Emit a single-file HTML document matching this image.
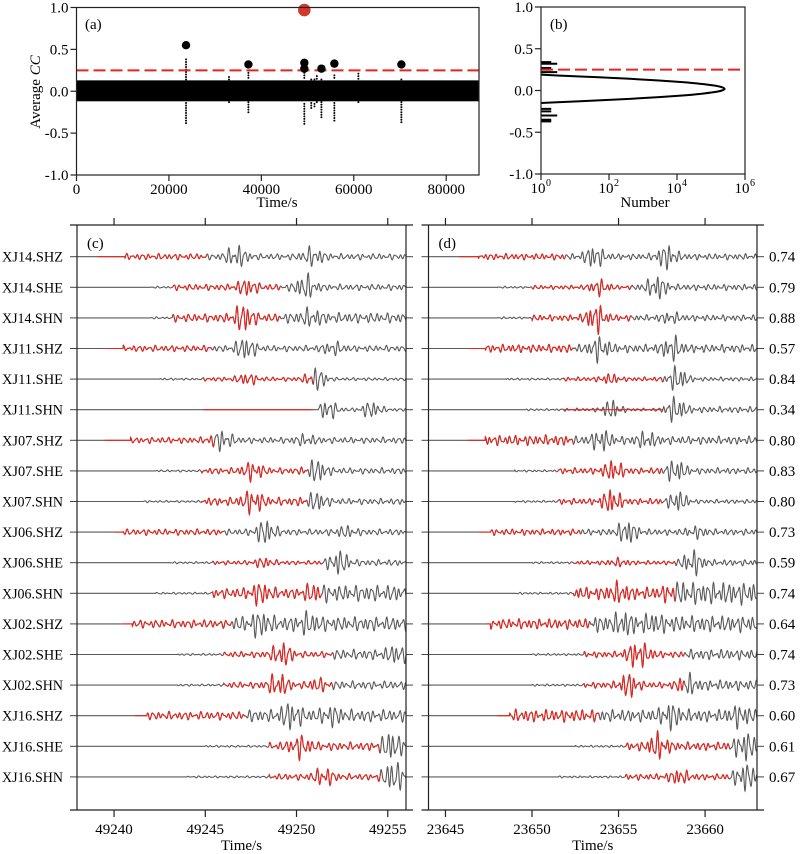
<!DOCTYPE html>
<html><head><meta charset="utf-8"><style>
html,body{margin:0;padding:0;background:#fff}
svg{display:block;font-family:"Liberation Serif","Times New Roman",Times,serif}
text{font-family:"Liberation Serif","Times New Roman",Times,serif}
</style></head><body>
<svg id="fig" width="800" height="854" viewBox="0 0 800 854" xmlns="http://www.w3.org/2000/svg">
<g id="pa"></g>
<g id="pb"></g>
<g id="pc"></g>
<g id="pd"></g>
</svg>
<script>
// ---------- Panel (a) data ----------
const aTicksX = [0, 20000, 40000, 60000, 80000];
const aTicksY = [1.0, 0.5, 0.0, -0.5, -1.0];
const aTickLabelsY = ["1.0", "0.5", "0.0", "-0.5", "-1.0"];
const detTimes = [23700, 37200, 49300, 49300, 53000, 55800, 70300];
const detCC = [0.55, 0.32, 0.34, 0.27, 0.27, 0.33, 0.32];
const bestTime = [49300];
const bestCC = [0.97];
const threshold = 0.25;
const bandUpper = 0.13;
const bandLower = -0.12;
const spikeTimes = [23700, 37200, 49300, 50800, 51500, 52000, 53000, 55800, 70300, 33000, 61000];
const spikeMax = [0.38, 0.25, 0.25, 0.14, 0.14, 0.18, 0.14, 0.19, 0.14, 0.17, 0.21];
const spikeMin = [-0.38, -0.25, -0.39, -0.2, -0.18, -0.13, -0.31, -0.35, -0.37, -0.13, -0.13];
// ---------- Panel (b) data ----------
const histCC = [-0.14,-0.12,-0.10,-0.08,-0.06,-0.04,-0.02,0.00,0.02,0.04,0.06,0.08,0.10,0.12,0.14,0.16,0.18];
const histCount = [3,41,407,2950,14500,50000,123000,209000,251000,209000,123000,50000,14500,2950,407,41,3];
const outlierCC = [0.34,0.32,0.27,0.25,0.22,-0.22,-0.25,-0.30,-0.35,-0.37];
const outlierCount = [2,3,2,2,3,2,2,3,2,2];
// ---------- Panel (c) data ----------
const stations = ["XJ14.SHZ","XJ14.SHE","XJ14.SHN","XJ11.SHZ","XJ11.SHE","XJ11.SHN","XJ07.SHZ","XJ07.SHE","XJ07.SHN","XJ06.SHZ","XJ06.SHE","XJ06.SHN","XJ02.SHZ","XJ02.SHE","XJ02.SHN","XJ16.SHZ","XJ16.SHE","XJ16.SHN"];
const cTicks = [49240, 49245, 49250, 49255];
const cOnset = [49240.6,49242.0,49242.0,49240.5,49242.5,49251.2,49240.9,49242.3,49241.6,49240.5,49243.0,49242.3,49241.0,49243.5,49243.5,49241.8,49245.0,49244.0];
const cRedStart = [49239.1,49243.2,49243.2,49239.5,49244.9,49244.9,49239.5,49244.8,49244.8,49240.05,49245.4,49245.4,49240.5,49246.0,49246.0,49241.15,49248.5,49248.5];
const cRedEnd = [49245.1,49249.1,49249.1,49245.4,49250.9,49250.9,49245.5,49250.6,49250.6,49246.0,49251.4,49251.4,49246.5,49252.0,49252.0,49247.2,49254.6,49254.6];
const cRedAmp = [3,3,4,3,2,0,3,3,4,3,2,5,4,3,3,4,4,3];
const cCodaAmp = [3,3,5,3,1.5,1.5,3,3,3,3,3,8,7,5,4,6,4,4];
const cPeak1T = [49246.7,49247.3,49247.1,49247.2,49247.3,49251.7,49245.9,49247.6,49247.6,49248.3,49248.2,49248.0,49248.0,49249.2,49249.0,49249.7,49250.2,49251.5];
const cPeak1A = [10,7,12,10,5,10,9,8,10,11,4,8,8,11,11,10,9,8];
const cPeak2T = [49250.9,49250.5,49250.8,49252.0,49251.1,49254.1,49250.5,49251.1,49251.1,49252.7,49252.3,49250.9,49250.6,49255.5,49251.2,49251.9,49255.2,49255.3];
const cPeak2A = [8,11,6,5,11,8,4,10,8,4,11,6,6,6,5,6,13,14];
const cRedShow = [1,1,1,1,1,0,1,1,1,1,1,1,1,1,1,1,1,1];
// ---------- Panel (d) data ----------
const dCC = ["0.74","0.79","0.88","0.57","0.84","0.34","0.80","0.83","0.80","0.73","0.59","0.74","0.64","0.74","0.73","0.60","0.61","0.67"];
const dTicks = [23645, 23650, 23655, 23660];
const dOnset = [23646.9,23648,23648,23647.3,23648.5,23649.5,23647.3,23649,23649,23647.6,23650,23649,23647.6,23650,23650,23648.7,23652.5,23651.5];
const dRedStart = [23645.8,23650.0,23650.0,23646.3,23651.8,23651.8,23646.3,23651.5,23651.5,23646.9,23652.4,23652.4,23647.4,23653.0,23653.0,23648.0,23655.4,23655.4];
const dRedEnd = [23651.9,23655.8,23655.8,23652.4,23657.6,23657.6,23652.4,23657.5,23657.5,23652.8,23658.3,23658.3,23653.3,23658.8,23658.8,23653.9,23661.4,23661.4];
const dRedAmp = [3,2,3,4,2,1.5,5,3,3,3,2,6,5,3,3,6,4,3];
const dCodaAmp = [3,3,3,4,2,3,4,3,2,3,3,11,8,5,5,6,5,4];
const dPeak1T = [23653.6,23653.9,23653.7,23653.9,23654.5,23654.6,23654.0,23654.7,23654.6,23655.5,23655.0,23655.0,23655.3,23656.0,23655.6,23658.0,23657.3,23658.5];
const dPeak1A = [10,7,13,10,4,9,9,9,11,11,3,6,6,11,11,9,11,6];
const dPeak2T = [23657.8,23657.2,23658.0,23658.1,23658.4,23658.3,23656.6,23658.3,23658.4,23659.5,23659.3,23658.0,23657.0,23656.6,23658.9,23662.0,23662.3,23662.3];
const dPeak2A = [11,11,4,10,12,11,6,10,10,4,11,4,4,4,8,7,12,12];
const dRedShow = [1,1,1,1,1,0,1,1,1,1,1,1,1,1,1,1,1,1];

const NS = "http://www.w3.org/2000/svg";
function mk(parent, tag, attrs, text) {
  const e = document.createElementNS(NS, tag);
  for (const k in attrs) e.setAttribute(k, attrs[k]);
  if (text !== undefined) e.textContent = text;
  parent.appendChild(e);
  return e;
}
const RED = "#e3261f";

// ================= Panel A =================
(function(){
  const g = document.getElementById("pa");
  const L = 76.5, R = 479, T = 7.5, B = 175;
  const xs = v => L + v / 87100 * (R - L);
  const ys = v => T + (1 - v) / 2 * (B - T);
  const band = mk(g, "rect", {x: L, y: ys(bandUpper), width: R - L, height: ys(bandLower) - ys(bandUpper), fill: "#000"});
  
  
  for (let i = 0; i < spikeTimes.length; i++) {
    for (let v = spikeMax[i]; v > bandUpper; v -= 0.03) {
      const d = mk(g, "circle", {cx: xs(spikeTimes[i]), cy: ys(v), r: 1, fill: "#000"});
      
      
    }
    for (let v = spikeMin[i]; v < bandLower; v += 0.03) {
      const d = mk(g, "circle", {cx: xs(spikeTimes[i]), cy: ys(v), r: 1, fill: "#000"});
      
      
    }
  }
  const th = mk(g, "line", {x1: L, x2: R, y1: ys(threshold), y2: ys(threshold), stroke: RED, "stroke-width": 2, "stroke-dasharray": "12 5"});
  
  
  for (let i = 0; i < detTimes.length; i++) {
    const c = mk(g, "circle", {cx: xs(detTimes[i]), cy: ys(detCC[i]), r: 4.2, fill: "#000"});
    
    
  }
  const bc = mk(g, "circle", {cx: xs(bestTime[0]), cy: ys(bestCC[0]), r: 6.3, fill: "#d1392b"});
  
  
  const fr = mk(g, "rect", {x: L, y: T, width: R - L, height: B - T, fill: "none", stroke: "#222", "stroke-width": 1.2});
  
  
  aTicksY.forEach((v, i) => {
    mk(g, "line", {x1: L - 6, x2: L, y1: ys(v), y2: ys(v), stroke: "#222", "stroke-width": 1.2});
    const t = mk(g, "text", {x: L - 8, y: ys(v) + 5, "text-anchor": "end", "font-size": 15}, aTickLabelsY[i]);
    
    
  });
  aTicksX.forEach(v => {
    mk(g, "line", {x1: xs(v), x2: xs(v), y1: B, y2: B + 6, stroke: "#222", "stroke-width": 1.2});
    const t = mk(g, "text", {x: xs(v), y: B + 19, "text-anchor": "middle", "font-size": 15}, String(v));
    
    
  });
  const xt = mk(g, "text", {x: 277, y: 207, "text-anchor": "middle", "font-size": 15}, "Time/s");
  
  
  const yt = mk(g, "text", {x: 0, y: 0, "text-anchor": "middle", "font-size": 15, transform: "translate(40,92) rotate(-90)"});
  
  
  mk(yt, "tspan", {}, "Average ");
  mk(yt, "tspan", {"font-style": "italic"}, "CC");
  const lab = mk(g, "text", {x: 85, y: 29, "font-size": 15}, "(a)");
  
  
})();

// ================= Panel B =================
(function(){
  const g = document.getElementById("pb");
  const L = 541, R = 745, T = 7, B = 174;
  const xs = n => L + Math.log10(n) / 6 * (R - L);
  const ys = v => T + (1 - v) / 2 * (B - T);
  const pts = histCC.map((c, i) => [xs(histCount[i]), ys(c)]);
  let d = "M" + pts[0][0] + "," + pts[0][1];
  for (let i = 0; i < pts.length - 1; i++) {
    const p0 = pts[Math.max(0, i - 1)], p1 = pts[i], p2 = pts[i + 1], p3 = pts[Math.min(pts.length - 1, i + 2)];
    const c1x = p1[0] + (p2[0] - p0[0]) / 6, c1y = p1[1] + (p2[1] - p0[1]) / 6;
    const c2x = p2[0] - (p3[0] - p1[0]) / 6, c2y = p2[1] - (p3[1] - p1[1]) / 6;
    d += " C" + c1x + "," + c1y + " " + c2x + "," + c2y + " " + p2[0] + "," + p2[1];
  }
  const crv = mk(g, "path", {d: "M" + L + "," + ys(histCC[0] - 0.01) + " L" + d.slice(1) + " L" + L + "," + ys(histCC[histCC.length - 1] + 0.01), fill: "none", stroke: "#000", "stroke-width": 2});
  
  
  outlierCC.forEach((c, i) => {
    const ln = mk(g, "line", {x1: L, x2: xs(outlierCount[i]), y1: ys(c), y2: ys(c), stroke: "#000", "stroke-width": 2});
    
    
  });
  const th = mk(g, "line", {x1: L, x2: R, y1: ys(threshold), y2: ys(threshold), stroke: RED, "stroke-width": 2, "stroke-dasharray": "12 5"});
  
  
  const fr = mk(g, "rect", {x: L, y: T, width: R - L, height: B - T, fill: "none", stroke: "#222", "stroke-width": 1.2});
  
  
  aTicksY.forEach((v, i) => {
    mk(g, "line", {x1: L - 6, x2: L, y1: ys(v), y2: ys(v), stroke: "#222", "stroke-width": 1.2});
    const t = mk(g, "text", {x: L - 8, y: ys(v) + 5, "text-anchor": "end", "font-size": 15}, aTickLabelsY[i]);
    
    
  });
  [0, 2, 4, 6].forEach(e => {
    const x = L + e / 6 * (R - L);
    mk(g, "line", {x1: x, x2: x, y1: B, y2: B + 6, stroke: "#222", "stroke-width": 1.2});
    const t = mk(g, "text", {x: x - 3, y: B + 19, "text-anchor": "middle", "font-size": 15}, "10");
    
    
    mk(g, "text", {x: x + 5, y: B + 12, "font-size": 10}, String(e));
  });
  const xt = mk(g, "text", {x: 645, y: 207, "text-anchor": "middle", "font-size": 15}, "Number");
  
  
  const lab = mk(g, "text", {x: 550, y: 29, "font-size": 15}, "(b)");
  
  
})();

// ================= Waveform panels =================
function carrier(t, r) {
  return 0.55 * Math.sin(2 * Math.PI * 3.4 * t + r * 1.3) + 0.3 * Math.sin(2 * Math.PI * 5.2 * t + r * 2.1) + 0.25 * Math.sin(2 * Math.PI * 2.3 * t + r * 0.7);
}
function envelope(t, r, D) {
  let e = 0;
  if (t >= D.on[r]) {
    if (t < D.rs[r]) e = 1;
    else if (t < D.re[r]) e = Math.max(1, D.ra[r]);
    else e = D.ca[r];
    e += D.p1a[r] * Math.exp(-Math.pow((t - D.p1t[r]) / 0.55, 2));
    e += D.p2a[r] * Math.exp(-Math.pow((t - D.p2t[r]) / 0.55, 2));
  }
  return e;
}
function drawPanel(gid, D) {
  const g = document.getElementById(gid);
  const {L, R, T, B, x0, x1} = D;
  const xs = t => L + (t - x0) / (x1 - x0) * (R - L);
  const row0 = 256.7, dy = 30.6;
  const yr = r => row0 + r * dy;
  const dt = 0.012;
  for (let r = 0; r < 18; r++) {
    const y = yr(r);
    mk(g, "line", {x1: L - 7, x2: L, y1: y, y2: y, stroke: "#444", "stroke-width": 1});
    mk(g, "line", {x1: R, x2: R + 7, y1: y, y2: y, stroke: "#444", "stroke-width": 1});
    let pg = "";
    for (let t = x0; t <= x1; t += dt) {
      const v = envelope(t, r, D) * carrier(t - x0, r);
      pg += (pg ? " L" : "M") + xs(t).toFixed(2) + "," + (y - v).toFixed(2);
    }
    const gr = mk(g, "path", {d: pg, fill: "none", stroke: "#5a5a5a", "stroke-width": 1.1});
    
    
    let pr = "";
    for (let t = D.rs[r]; t <= D.re[r]; t += dt) {
      const v = D.show[r] ? envelope(t, r, D) * carrier(t - x0, r) : 0;
      pr += (pr ? " L" : "M") + xs(t).toFixed(2) + "," + (y - v).toFixed(2);
    }
    const rd = mk(g, "path", {d: pr, fill: "none", stroke: RED, "stroke-width": 1.1});
    
    
    if (D.left) {
      const t = mk(g, "text", {x: 2, y: y + 5, "font-size": 14.5, textLength: 61, lengthAdjust: "spacingAndGlyphs"}, D.left[r]);
      
      
    }
    if (D.right) {
      const t = mk(g, "text", {x: 769, y: y + 5, "font-size": 15}, D.right[r]);
      
      
    }
  }
  mk(g, "line", {x1: L, x2: L, y1: T, y2: B, stroke: "#222", "stroke-width": 1.2});
  mk(g, "line", {x1: R, x2: R, y1: T, y2: B, stroke: "#222", "stroke-width": 1.2});
  const ta = mk(g, "line", {x1: L - 7, x2: R + 7, y1: T, y2: T, stroke: "#222", "stroke-width": 1.2});
  
  
  const ba = mk(g, "line", {x1: L - 7, x2: R + 7, y1: B, y2: B, stroke: "#222", "stroke-width": 1.2});
  
  
  D.ticks.forEach(v => {
    mk(g, "line", {x1: xs(v), x2: xs(v), y1: T - 7, y2: T, stroke: "#222", "stroke-width": 1.2});
    mk(g, "line", {x1: xs(v), x2: xs(v), y1: B, y2: B + 7, stroke: "#222", "stroke-width": 1.2});
    const t = mk(g, "text", {x: xs(v), y: B + 24, "text-anchor": "middle", "font-size": 15}, String(v));
    
    
  });
  const xt = mk(g, "text", {x: (L + R) / 2, y: 850, "text-anchor": "middle", "font-size": 15}, "Time/s");
  
  
  const lab = mk(g, "text", {x: L + 10, y: 248, "font-size": 15}, D.label);
  
  
}
drawPanel("pc", {L: 77, R: 406, T: 225, B: 810, x0: 49237.97, x1: 49256.0, ticks: cTicks, label: "(c)",
  on: cOnset, rs: cRedStart, re: cRedEnd, ra: cRedAmp, ca: cCodaAmp, p1t: cPeak1T, p1a: cPeak1A, p2t: cPeak2T, p2a: cPeak2A, show: cRedShow, left: stations});
drawPanel("pd", {L: 428.5, R: 757, T: 225, B: 810, x0: 23644.02, x1: 23663.0, ticks: dTicks, label: "(d)",
  on: dOnset, rs: dRedStart, re: dRedEnd, ra: dRedAmp, ca: dCodaAmp, p1t: dPeak1T, p1a: dPeak1A, p2t: dPeak2T, p2a: dPeak2A, show: dRedShow, right: dCC});
</script>
</body></html>
